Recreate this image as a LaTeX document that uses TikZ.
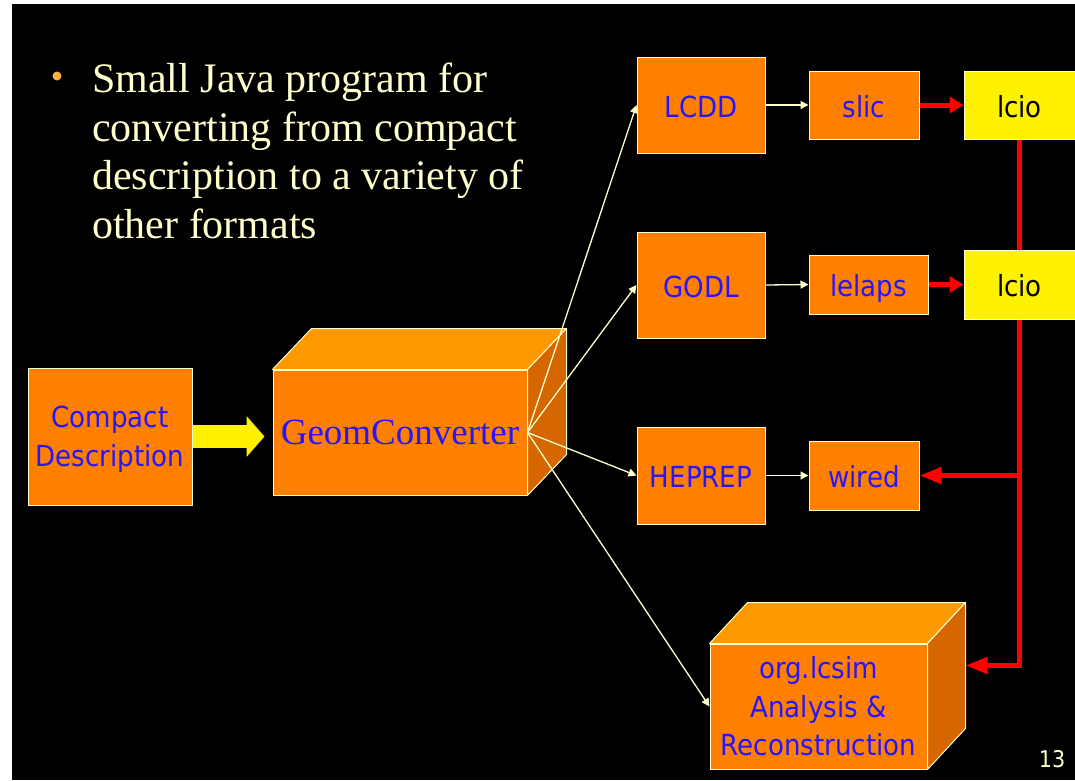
\documentclass[tikz,border=0pt]{standalone}
\usepackage{fontspec}
\setmainfont{Liberation Serif}
\newfontfamily\boxfont{DejaVu Sans Condensed}
\usetikzlibrary{arrows.meta}

\definecolor{boxorange}{RGB}{255,128,0}
\definecolor{toporange}{RGB}{255,153,0}
\definecolor{sideorange}{RGB}{214,102,0}
\definecolor{paleyellow}{RGB}{255,255,204}
\definecolor{labelblue}{RGB}{40,20,255}
\definecolor{bulletorange}{RGB}{255,176,64}

\tikzset{
  fmtbox/.style={draw=paleyellow, line width=1pt, fill=boxorange, text=labelblue,
    font=\boxfont\fontsize{29}{38.5}\selectfont, inner sep=0pt, align=center},
  oneline/.style={text height=24pt, text depth=0pt},
  iobox/.style={fmtbox, fill=yellow, text=black},
  topface/.style={draw=paleyellow, line width=1pt, fill=toporange, line join=round},
  sideface/.style={draw=paleyellow, line width=1pt, fill=sideorange, line join=round},
  feed/.style={draw=paleyellow, line width=1.3pt, -{Triangle[length=8pt,width=8pt]}},
  redlink/.style={draw=red, line width=5pt, -{Triangle[length=14pt,width=16pt]}},
  redtap/.style={draw=red, line width=5pt, -{Triangle[length=22pt,width=16pt]}},
}

\begin{document}
\begin{tikzpicture}[x=1pt,y=-1pt]
  \useasboundingbox (0,0) rectangle (1075,780);
  \fill[white] (0,0) rectangle (1075,780);
  \fill[black] (12,4) rectangle (1075,780);

  % bullet text
  \fill[bulletorange] (57,76) circle (4.5);
  \node[anchor=north west, inner sep=0pt, align=left, text=paleyellow,
        font=\fontsize{42}{48.5}\selectfont] (intro) at (92,63)
    {Small Java program for\\converting from compact\\description to a variety of\\other formats};

  % boxes
  \node[fmtbox, minimum width=164, minimum height=137] (compact) at (110,436.5) {\strut Compact\\Description};
  \node[fmtbox, oneline, font=\fontsize{37}{44}\selectfont, minimum width=254, minimum height=125] (geom) at (400,432.5) {GeomConverter};

  \node[fmtbox, oneline, minimum width=128, minimum height=96] (lcdd) at (701,105) {LCDD};
  \node[fmtbox, oneline, minimum width=128, minimum height=106] (godl) at (701,285) {GODL};
  \node[fmtbox, oneline, minimum width=128, minimum height=97] (heprep) at (701,475.5) {HEPREP};

  \node[fmtbox, oneline, minimum width=110, minimum height=68] (slic) at (864,105) {slic};
  \node[fmtbox, oneline, minimum width=119, minimum height=59] (lelaps) at (868.5,284.5) {lelaps};
  \node[fmtbox, oneline, minimum width=110, minimum height=69] (wired) at (864,475.5) {wired};

  \node[iobox, oneline, minimum width=111, minimum height=68] (lcio1) at (1019.5,105) {lcio};
  \node[iobox, oneline, minimum width=111, minimum height=69] (lcio2) at (1019.5,284.5) {lcio};

  \node[fmtbox, minimum width=217, minimum height=125] (lcsim) at (818.5,706.5) {org.lcsim\\Analysis \&\\Reconstruction};

  % 3d faces
  \filldraw[topface] (geom.north west) -- ([xshift=39pt,yshift=41pt]geom.north west)
    -- ([xshift=39pt,yshift=41pt]geom.north east) -- (geom.north east) -- cycle;
  \filldraw[sideface] (geom.north east) -- ([xshift=39pt,yshift=41pt]geom.north east)
    -- ([xshift=39pt,yshift=41pt]geom.south east) -- (geom.south east) -- cycle;
  \filldraw[topface] (lcsim.north west) -- ([xshift=38pt,yshift=41pt]lcsim.north west)
    -- ([xshift=38pt,yshift=41pt]lcsim.north east) -- (lcsim.north east) -- cycle;
  \filldraw[sideface] (lcsim.north east) -- ([xshift=38pt,yshift=41pt]lcsim.north east)
    -- ([xshift=38pt,yshift=41pt]lcsim.south east) -- (lcsim.south east) -- cycle;
  \coordinate (lcsimback) at ([xshift=38pt,yshift=41pt]lcsim.east);

  % block arrow into the converter
  \draw[yellow, line width=23pt, -{Triangle[length=18pt,width=40pt]}, shorten >=8pt]
    (compact.east) -- (compact.east -| geom.west);

  % converter outputs
  \draw[feed] (geom.east) -- (lcdd.west);
  \draw[feed] (geom.east) -- (godl.west);
  \draw[feed] (geom.east) -- (heprep.west);
  \draw[feed] (geom.east) -- (lcsim.west);

  \draw[feed] (lcdd.east) -- (slic.west);
  \draw[feed] (godl.east) -- (lelaps.west);
  \draw[feed] (heprep.east) -- (wired.west);

  % lcio flow
  \draw[redlink] (slic.east) -- (lcio1.west);
  \draw[redlink] (lelaps.east) -- (lcio2.west);
  \draw[red, line width=5pt] (lcio1.south) -- (lcio2.north);
  \draw[redtap] (lcio2.south) |- (lcsimback);
  \draw[redtap] (lcio2.south |- wired.east) -- (wired.east);

  \node[anchor=base, text=paleyellow, font=\boxfont\fontsize{23}{27}\selectfont] (pageno) at (1052,767) {13};
\end{tikzpicture}
\end{document}
